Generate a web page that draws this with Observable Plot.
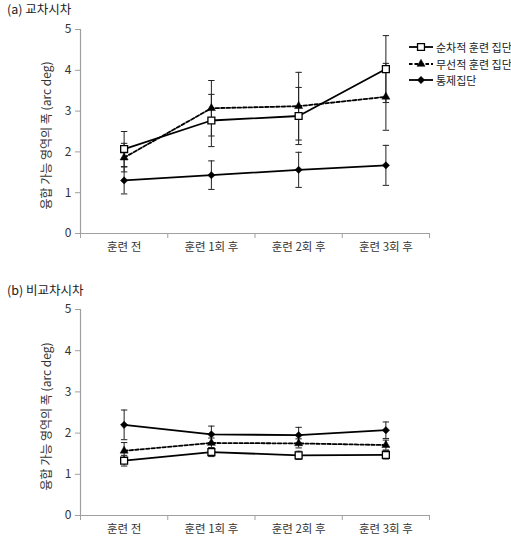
<!DOCTYPE html>
<html><head><meta charset="utf-8">
<script src="https://cdn.jsdelivr.net/npm/d3@7"></script>
<script src="https://cdn.jsdelivr.net/npm/@observablehq/plot@0.6"></script>
<style>
body{margin:0;background:#fff;overflow:hidden;font-family:"Noto Sans CJK KR","Noto Sans",sans-serif}
#root{position:relative;width:511px;height:549px;overflow:hidden}
.title{position:absolute;left:7px;font-size:12.5px;color:#222;line-height:1}
.panel{position:absolute;left:0}
#legend{position:absolute;left:409px;top:39px;font-size:11px;color:#222;white-space:nowrap}
#legend .row{height:16.5px;display:flex;align-items:center}
#legend svg{flex:none;margin-right:2px}
</style></head><body><div id="root"></div>
<script>
const stages = ["훈련 전", "훈련 1회 후", "훈련 2회 후", "훈련 3회 후"];
const groups = ["순차적 훈련 집단", "무선적 훈련 집단", "통제집단"];
const yTicks = [0, 1, 2, 3, 4, 5];
const yLabel = "융합 가능 영역의 폭 (arc deg)";
const titleA = "(a) 교차시차";
const titleB = "(b) 비교차시차";

// (a) crossed disparity
const crossSeq = [2.07, 2.77, 2.88, 4.03];
const crossSeqErr = [0.43, 0.64, 0.70, 0.82];
const crossRand = [1.86, 3.07, 3.12, 3.35];
const crossRandErr = [0.35, 0.68, 0.83, 0.82];
const crossCtrl = [1.30, 1.43, 1.56, 1.67];
const crossCtrlErr = [0.33, 0.35, 0.43, 0.49];

// (b) uncrossed disparity
const uncrSeq = [1.33, 1.54, 1.46, 1.47];
const uncrSeqErr = [0.13, 0.11, 0.10, 0.10];
const uncrRand = [1.57, 1.76, 1.75, 1.71];
const uncrRandErr = [0.20, 0.12, 0.11, 0.12];
const uncrCtrl = [2.20, 1.97, 1.95, 2.07];
const uncrCtrlErr = [0.36, 0.20, 0.19, 0.20];

const FONT = '"Noto Sans CJK KR","Noto Sans",sans-serif';
const capSym = {draw(ctx, size) { const w = Math.sqrt(size / Math.PI); ctx.moveTo(-w, 0); ctx.lineTo(w, 0); }};

function rows(vals, errs, g) {
  return vals.map((v, i) => ({g, i: i + 0.5, v, lo: v - errs[i], hi: v + errs[i]}));
}

function chart(seq, seqE, rnd, rndE, ctl, ctlE, height, mb) {
  const S = rows(seq, seqE, 0), R = rows(rnd, rndE, 1), C = rows(ctl, ctlE, 2);
  const all = [...S, ...R, ...C];
  return Plot.plot({
    width: 511, height, marginLeft: 80, marginRight: 82, marginTop: 29, marginBottom: mb,
    style: {fontFamily: FONT, fontSize: "12px", color: "#333", background: "transparent", overflow: "visible"},
    x: {domain: [0, 4], axis: null, label: null},
    y: {domain: [0, 5], axis: null, label: null},
    marks: [
      Plot.axisX({ticks: [0, 1, 2, 3, 4], tickFormat: () => "", tickSize: 5, stroke: "#a0a0a0", label: null}),
      Plot.axisY({ticks: yTicks, tickFormat: () => "", tickSize: 5, stroke: "#a0a0a0", label: null}),
      Plot.ruleY([0], {stroke: "#a0a0a0", strokeWidth: 1.2}),
      Plot.ruleX([0], {stroke: "#a0a0a0", strokeWidth: 1.2}),
      Plot.text(yTicks, {y: d => d, text: d => String(d), frameAnchor: "left", dx: -9, textAnchor: "end", fill: "#333", fontSize: 12}),
      Plot.text(stages, {x: (d, i) => i + 0.5, text: d => d, frameAnchor: "bottom", dy: 17, fill: "#333", fontSize: 11.5}),
      Plot.text([yLabel], {text: d => d, frameAnchor: "left", textAnchor: "middle", rotate: -90, dx: -33, dy: 4, fill: "#333", fontSize: 12}),
      Plot.ruleX(all, {x: "i", y1: "lo", y2: "hi", stroke: "#222", strokeWidth: 1}),
      Plot.dot(all, {x: "i", y: "lo", symbol: capSym, r: 3.2, stroke: "#222", strokeWidth: 1}),
      Plot.dot(all, {x: "i", y: "hi", symbol: capSym, r: 3.2, stroke: "#222", strokeWidth: 1}),
      Plot.line(C, {x: "i", y: "v", stroke: "black", strokeWidth: 1.8}),
      Plot.line(R, {x: "i", y: "v", stroke: "black", strokeWidth: 1.8, strokeDasharray: "3.5,2"}),
      Plot.line(S, {x: "i", y: "v", stroke: "black", strokeWidth: 1.8}),
      Plot.dot(C, {x: "i", y: "v", symbol: d3.symbolDiamond2, r: 3.3, fill: "black", stroke: "black", strokeWidth: 0.5}),
      Plot.dot(R, {x: "i", y: "v", symbol: "triangle", r: 3.0, fill: "black", stroke: "black", strokeWidth: 0.5}),
      Plot.dot(S, {x: "i", y: "v", symbol: "square", r: 3.9, fill: "white", stroke: "black", strokeWidth: 1.3})
    ]
  });
}

const root = document.getElementById("root");
function addTitle(text, top) {
  const t = document.createElement("div");
  t.className = "title"; t.style.top = top + "px"; t.textContent = text; root.appendChild(t);
}
addTitle(titleA, 3);
addTitle(titleB, 284);

const pa = chart(crossSeq, crossSeqErr, crossRand, crossRandErr, crossCtrl, crossCtrlErr, 260, 27);
pa.classList.add("panel"); pa.style.top = "0px"; root.appendChild(pa);
const pb = chart(uncrSeq, uncrSeqErr, uncrRand, uncrRandErr, uncrCtrl, uncrCtrlErr, 269, 34);
pb.classList.add("panel"); pb.style.top = "280px"; root.appendChild(pb);

// legend for panel (a)
const legend = document.createElement("div");
legend.id = "legend";
const kinds = [
  {dash: null, sym: d3.symbolSquare, size: 48, fill: "white", sw: 1.3},
  {dash: "3.5,2", sym: d3.symbolTriangle, size: 28, fill: "black", sw: 0.5},
  {dash: null, sym: d3.symbolDiamond2, size: 34, fill: "black", sw: 0.5}
];
groups.forEach((g, k) => {
  const row = document.createElement("div"); row.className = "row";
  const s = d3.create("svg").attr("width", 25).attr("height", 12);
  s.append("line").attr("x1", 0).attr("x2", 24).attr("y1", 6).attr("y2", 6)
    .attr("stroke", "black").attr("stroke-width", 1.8).attr("stroke-dasharray", kinds[k].dash);
  s.append("path").attr("d", d3.symbol(kinds[k].sym, kinds[k].size)())
    .attr("transform", "translate(12,6)").attr("fill", kinds[k].fill).attr("stroke", "black").attr("stroke-width", kinds[k].sw);
  row.appendChild(s.node());
  const sp = document.createElement("span"); sp.textContent = g; row.appendChild(sp);
  legend.appendChild(row);
});
root.appendChild(legend);
</script>
</body></html>
